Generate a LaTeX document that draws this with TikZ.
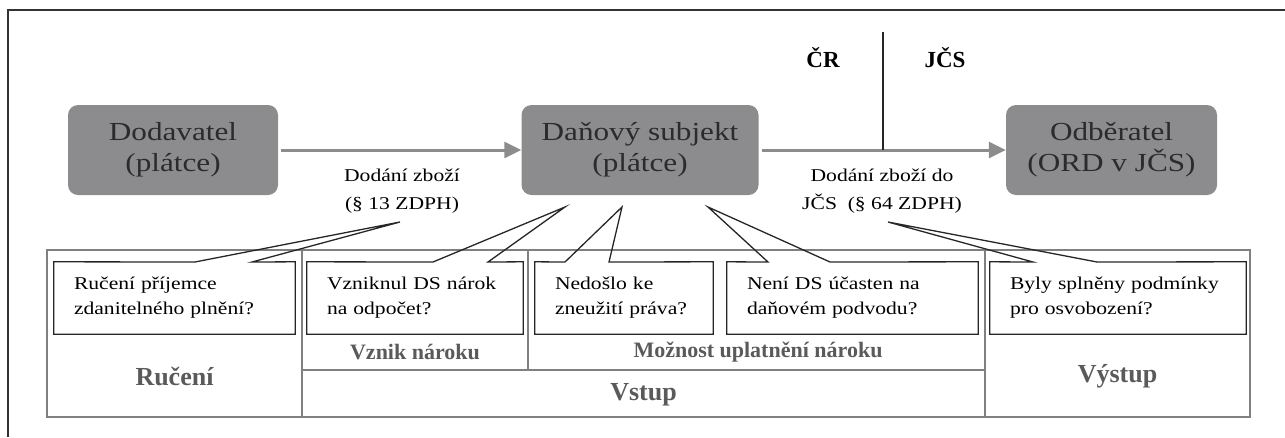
\documentclass[tikz,border=0pt]{standalone}
\usepackage{fontspec}
\setmainfont[FakeStretch=1.2]{Liberation Serif}
\newfontfamily\labelserif{Liberation Serif}
\usepackage{tikz}
\usetikzlibrary{positioning,arrows.meta,calc}
\definecolor{boxgray}{HTML}{8C8C8E}
\definecolor{boxtext}{HTML}{2B2B2B}
\definecolor{arrgray}{HTML}{8C8C8C}
\definecolor{linegray}{HTML}{808080}
\definecolor{labgray}{HTML}{5A5A5A}
\tikzstyle{party}    = [rectangle, rounded corners=10pt, fill=boxgray, text=boxtext, minimum height=90pt, align=center, font=\fontsize{26}{31}\selectfont]
\tikzstyle{flow}     = [draw=arrgray, line width=3pt, -{Triangle[length=17pt,width=16pt]}, shorten <=3pt]
\tikzstyle{tag}      = [align=center, font=\fontsize{18}{28}\selectfont]
\tikzstyle{question} = [rectangle, minimum height=72pt, inner xsep=20pt, align=left, font=\fontsize{18}{25}\selectfont]
\tikzstyle{callout}  = [draw=black!85, line width=1.3pt]
\tikzstyle{cell}     = [draw=linegray, line width=1.3pt]
\tikzstyle{phase}    = [text=labgray, font=\labelserif\bfseries\fontsize{26}{30}\selectfont]
\tikzstyle{subphase} = [text=labgray, font=\labelserif\bfseries\fontsize{22}{26}\selectfont]
\tikzstyle{region}   = [font=\labelserif\bfseries\fontsize{23}{27}\selectfont]

\begin{document}
\begin{tikzpicture}[x=1pt,y=-1pt]
		\useasboundingbox (0,0) rectangle (1285,437);

		% frame
		\draw[black!80, line width=1.5pt] (8,437) -- (8,10) -- (1285,10);

		% parties
		\node[party, minimum width=210pt] (dod) at (173,150) {Dodavatel\\(plátce)};
		\node[party, minimum width=237pt] (dan) at (640,150) {Daňový subjekt\\(plátce)};
		\node[party, minimum width=211pt] (odb) at (1111.5,150) {Odběratel\\(ORD v JČS)};

		\draw[flow] (dod) -- (dan);
		\draw[flow] (dan) -- (odb);

		\node[tag] (d13) at (402,191) {Dodání zboží\\(§ 13 ZDPH)};
		\node[tag] (d64) at (882,191) {Dodání zboží do\\JČS\ \ (§ 64 ZDPH)};

		% border CR / JCS
		\coordinate (hr) at (883,32);
		\draw[black!85, line width=2pt] (hr) -- (hr |- dan.east);
		\node[region] (cr) at (823,58) {ČR};
		\node[region] (jcs) at (945,58) {JČS};

		% table
		\draw[cell] (47,250) rectangle (1250,417);
		\draw[cell] (302,250) -- (302,417);
		\draw[cell] (985,250) -- (985,417);
		\draw[cell] (528,250) -- (528,370);
		\draw[cell] (302,370) -- (985,370);

		\node[subphase] (vznik) at (415,352) {Vznik nároku};
		\node[subphase] (moznost) at (758,352) {Možnost uplatnění nároku};
		\node[phase] (ruceni) at (174.5,376) {Ručení};
		\node[phase] (vstup) at (643.5,395) {Vstup};
		\node[phase] (vystup) at (1117.5,376) {Výstup};

		% questions
		\node[question, minimum width=241pt, text width=201pt] (q1) at (174.5,298) {Ručení příjemce\\zdanitelného plnění?};
		\node[question, minimum width=216pt, text width=176pt] (q2) at (415,298) {Vzniknul DS nárok\\na odpočet?};
		\node[question, minimum width=178pt, text width=138pt] (q3) at (624,298) {Nedošlo ke\\zneužití práva?};
		\node[question, minimum width=251pt, text width=211pt] (q4) at (852.5,298) {Není DS účasten na\\daňovém podvodu?};
		\node[question, minimum width=256pt, text width=216pt] (q5) at (1118,298) {Byly splněny podmínky\\pro osvobození?};

		\coordinate (t1) at (400,222);
		\coordinate (t2) at (565,207);
		\coordinate (t3) at (622,207);
		\coordinate (t4) at (708,207);
		\coordinate (t5) at (888,222);

		\draw[callout] (q1.south west) -- (q1.north west) -- (195,262) -- (t1) -- (252,262) -- (q1.north east) -- (q1.south east) -- cycle;
		\draw[callout] (q2.south west) -- (q2.north west) -- (433,262) -- (t2) -- (488,262) -- (q2.north east) -- (q2.south east) -- cycle;
		\draw[callout] (q3.south west) -- (q3.north west) -- (565,262) -- (t3) -- (609,262) -- (q3.north east) -- (q3.south east) -- cycle;
		\draw[callout] (q4.south west) -- (q4.north west) -- (768,262) -- (t4) -- (830,262) -- (q4.north east) -- (q4.south east) -- cycle;
		\draw[callout] (q5.south west) -- (q5.north west) -- (1033,262) -- (t5) -- (1097,262) -- (q5.north east) -- (q5.south east) -- cycle;
	\end{tikzpicture}
\end{document}
